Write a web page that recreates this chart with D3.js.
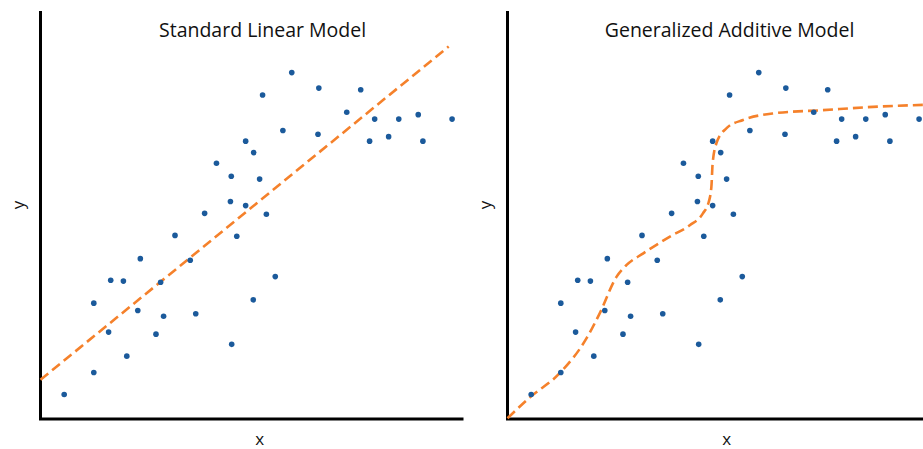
<!DOCTYPE html>
<html>
<head>
<meta charset="utf-8">
<script src="https://cdn.jsdelivr.net/npm/d3@7"></script>
<style>
  html, body { margin: 0; padding: 0; background: #fff; }
  svg { display: block; }
  text { font-family: "Open Sans", sans-serif; fill: #111; }
</style>
</head>
<body>
<div id="root"></div>
<script>
// observations, shared by both panels (x, y on a 0..100 scale)
const xs = [59.4, 65.8, 75.7, 52.5, 72.4, 79.0, 84.7, 89.3, 97.3, 57.3, 65.6, 77.8, 82.3, 90.4,
  48.5, 50.4, 41.6, 45.1, 51.8, 44.9, 48.5, 38.8, 53.4, 31.8, 46.4, 23.6, 35.4, 16.6, 19.6,
  28.4, 55.5, 12.6, 50.3, 23.0, 29.1, 36.7, 16.1, 27.3, 45.2, 20.4, 12.6, 5.6];
const ys = [84.9, 81.1, 80.7, 79.4, 75.2, 73.5, 73.5, 74.6, 73.5, 70.7, 69.8, 68.1, 69.2, 68.1,
  68.1, 65.3, 62.7, 59.5, 58.8, 53.3, 52.3, 50.4, 50.2, 45.0, 44.8, 39.3, 38.9, 34.0, 33.8,
  33.5, 34.9, 28.4, 29.2, 26.6, 25.2, 25.8, 21.3, 20.8, 18.3, 15.4, 11.4, 6.0];

// linear fit end points
const linX = [0, 96.5];
const linY = [9.6, 91.3];

// GAM smooth
const gamX = [0, 5.3, 12.5, 18.7, 21.8, 25.8, 28.1, 32.1, 38.4, 43.1, 46.2, 47.6, 48.2,
  48.5, 49.4, 51.8, 55.7, 62.8, 74.6, 86.4, 98.5];
const gamY = [0.2, 5.3, 11.4, 19.8, 25.9, 34.9, 37.7, 40.6, 44.7, 47.5, 50.4, 53.3, 56.9,
  62.7, 67.6, 71.3, 73.3, 74.9, 75.7, 76.5, 77.0];

const titles = ["Standard Linear Model", "Generalized Additive Model"];

const W = 923, H = 449;
const svg = d3.select("#root").append("svg").attr("width", W).attr("height", H);

const panels = [
  { left: 40.5, title: titles[0], fx: linX, fy: linY, curve: d3.curveLinear },
  { left: 507.5, title: titles[1], fx: gamX, fy: gamY, curve: d3.curveMonotoneX }
];

const plotTop = 11, plotBottom = 419, plotW = 423;
const y = d3.scaleLinear().domain([0, 100]).range([plotBottom, plotTop]);

panels.forEach(p => {
  const x = d3.scaleLinear().domain([0, 100]).range([p.left, p.left + plotW]);
  const g = svg.append("g");

  // axes (no ticks)
  g.append("path")
    .attr("d", `M${p.left},${plotTop}V${plotBottom}H${p.left + plotW}`)
    .attr("fill", "none").attr("stroke", "#000").attr("stroke-width", 3);

  const line = d3.line().x(d => x(d[0])).y(d => y(d[1])).curve(p.curve);
  g.append("path")
    .attr("d", line(p.fx.map((v, i) => [v, p.fy[i]])))
    .attr("fill", "none")
    .attr("stroke", "#f5812b")
    .attr("stroke-width", 2.6)
    .attr("stroke-dasharray", "10,5");

  g.selectAll("circle").data(xs).join("circle")
    .attr("cx", d => x(d))
    .attr("cy", (d, i) => y(ys[i]))
    .attr("r", 2.8)
    .attr("fill", "#1b5a9b");

  g.append("text")
    .attr("x", x(52.5)).attr("y", 37)
    .attr("text-anchor", "middle")
    .style("font-size", "19.5px")
    .text(p.title);

  g.append("text")
    .attr("x", x(51.8)).attr("y", 445)
    .attr("text-anchor", "middle")
    .style("font-size", "17px")
    .text("x");

  g.append("text")
    .attr("transform", `translate(${p.left - 17},205) rotate(-90)`)
    .attr("text-anchor", "middle")
    .style("font-size", "17px")
    .text("y");
});
</script>
</body>
</html>
